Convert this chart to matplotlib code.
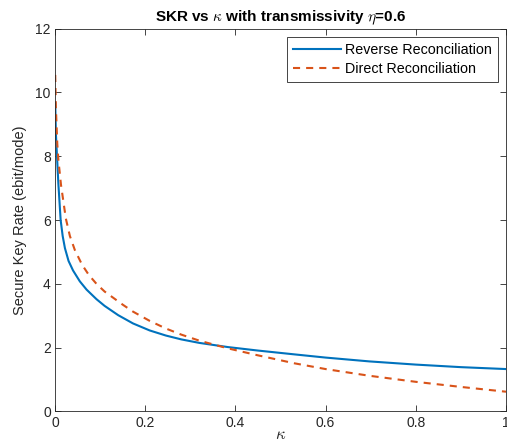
import numpy as np
import matplotlib
matplotlib.use("Agg")
import matplotlib.pyplot as plt

# values
kappa_rr = [0.0005, 0.002, 0.0037, 0.0074, 0.0125, 0.017, 0.022, 0.03, 0.04, 0.055,
            0.07, 0.092, 0.11, 0.14, 0.173, 0.21, 0.246, 0.28, 0.32, 0.383,
            0.45, 0.531, 0.6, 0.697, 0.8, 0.9, 1.0]
skr_rr = [9.66, 8.7, 8.2, 7.15, 6.0, 5.5, 5.12, 4.72, 4.42, 4.08,
          3.82, 3.52, 3.31, 3.02, 2.76, 2.54, 2.38, 2.26, 2.15, 2.02,
          1.91, 1.79, 1.69, 1.57, 1.47, 1.39, 1.33]

kappa_dr = [0.0005, 0.002, 0.005, 0.0074, 0.0133, 0.024, 0.033, 0.044, 0.06, 0.075,
            0.092, 0.11, 0.15, 0.173, 0.21, 0.246, 0.28, 0.32, 0.383, 0.45,
            0.531, 0.6, 0.697, 0.8, 0.9, 1.0]
skr_dr = [10.55, 9.5, 8.4, 7.9, 7.1, 6.05, 5.5, 5.06, 4.6, 4.28,
          4.0, 3.76, 3.35, 3.13, 2.84, 2.6, 2.41, 2.22, 1.98, 1.76,
          1.51, 1.33, 1.12, 0.93, 0.77, 0.62]

x_ticks = [0, 0.2, 0.4, 0.6, 0.8, 1]
x_tick_labels = ["0", "0.2", "0.4", "0.6", "0.8", "1"]
y_ticks = [0, 2, 4, 6, 8, 10, 12]

plt.rcParams['font.family'] = ['Liberation Sans', 'DejaVu Sans']
plt.rcParams['mathtext.fontset'] = 'cm'

dark = (0.15, 0.15, 0.15)

fig = plt.figure(figsize=(5.07, 4.48), dpi=100)
ax = fig.add_axes([0.1085, 0.0815, 0.8895, 0.8545])

ax.plot(kappa_rr, skr_rr, color='#0072BD', lw=1.5, label='Reverse Reconciliation')
ax.plot(kappa_dr, skr_dr, color='#D95319', lw=1.5, dashes=(3.4, 2.9),
        label='Direct Reconciliation')

ax.set_xlim(0, 1)
ax.set_ylim(0, 12)
ax.set_xticks(x_ticks)
ax.set_xticklabels(x_tick_labels)
ax.set_yticks(y_ticks)
ax.tick_params(direction='in', top=True, right=True, length=4, width=0.6,
               colors=dark, labelsize=10, labelcolor=dark, pad=3)
for s in ax.spines.values():
    s.set_color(dark)
    s.set_linewidth(0.6)

ax.set_title(r'SKR vs $\kappa$ with transmissivity $\eta$=0.6',
             fontsize=11, fontweight='bold', pad=5)
ax.set_xlabel(r'$\kappa$', fontsize=12, labelpad=-2, color=dark)
ax.set_ylabel('Secure Key Rate (ebit/mode)', fontsize=10.5, color=dark, labelpad=6)

leg = ax.legend(loc='upper right', fontsize=10.3, fancybox=False, framealpha=1,
                edgecolor=dark, handlelength=3.3, handletextpad=0.3,
                borderpad=0.45, labelspacing=0.35, borderaxespad=0.55)
leg.get_frame().set_linewidth(0.6)

fig.savefig('out.png', dpi=100)
